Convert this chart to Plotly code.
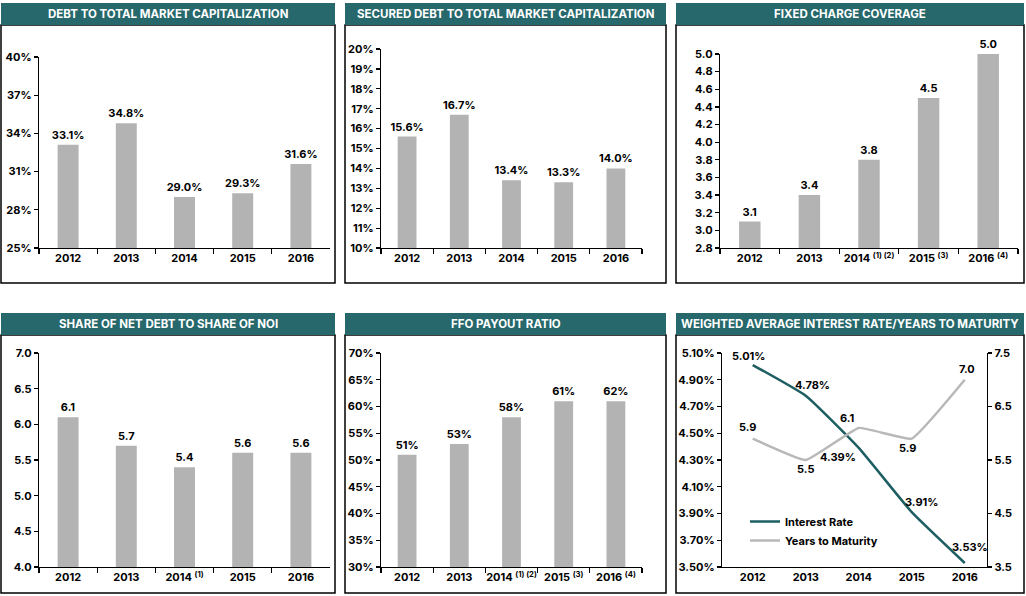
import plotly.graph_objects as go

# ---------------- data ----------------
years = ["2012", "2013", "2014", "2015", "2016"]
ticks_plain = ["2012", "2013", "2014", "2015", "2016"]
ticks_fc = ["2012", "2013", "2014 <sup>(1) (2)</sup>", "2015 <sup>(3)</sup>", "2016 <sup>(4)</sup>"]
ticks_noi = ["2012", "2013", "2014 <sup>(1)</sup>", "2015", "2016"]

debt_to_mcap = [33.1, 34.8, 29.0, 29.3, 31.6]
secured_debt_to_mcap = [15.6, 16.7, 13.4, 13.3, 14.0]
fixed_charge = [3.1, 3.4, 3.8, 4.5, 5.0]
net_debt_to_noi = [6.1, 5.7, 5.4, 5.6, 5.6]
ffo_payout = [51, 53, 58, 61, 61]
ffo_payout_labels = ["51%", "53%", "58%", "61%", "62%"]
interest_rate = [5.01, 4.78, 4.39, 3.91, 3.53]
years_to_maturity = [5.9, 5.5, 6.1, 5.9, 7.0]

titles = [
    "DEBT TO TOTAL MARKET CAPITALIZATION",
    "SECURED DEBT TO TOTAL MARKET CAPITALIZATION",
    "FIXED CHARGE COVERAGE",
    "SHARE OF NET DEBT TO SHARE OF NOI",
    "FFO PAYOUT RATIO",
    "WEIGHTED AVERAGE INTEREST RATE/YEARS TO MATURITY",
]

# label offsets (pixels) for the line chart value labels
rate_label_shift = [(-4, 9), (7, 11), (-21, -9), (10, 10), (5, 16)]
ytm_label_shift = [(-5, 12), (0, -9), (-12, 10), (-4, -9), (2, 11)]

# ---------------- styling ----------------
W, H = 1026, 596
TEAL = "#26686b"
LINE_TEAL = "#1d5e62"
BAR = "#b3b3b3"
FONT = "Inter"

def px(x):
    return x / W

def py(y):
    return 1 - y / H

def dom_x(a, b):
    return [px(a), px(b)]

def dom_y(top, bottom):
    return [py(bottom), py(top)]

fig = go.Figure()

bar_font = dict(family=FONT, size=11, color="black", weight="bold")

def add_bar(idx, values, texttemplate=None, text=None):
    xa = "x" if idx == 1 else f"x{idx}"
    ya = "y" if idx == 1 else f"y{idx}"
    kw = {}
    if text is not None:
        kw["text"] = text
    else:
        kw["texttemplate"] = texttemplate
    fig.add_trace(go.Bar(
        x=years, y=values, xaxis=xa, yaxis=ya,
        marker=dict(color=BAR, line=dict(width=0)),
        textposition="outside", textfont=bar_font, cliponaxis=False,
        constraintext="none", showlegend=False, hoverinfo="skip", **kw))

add_bar(1, debt_to_mcap, texttemplate="%{y:.1f}%")
add_bar(2, secured_debt_to_mcap, texttemplate="%{y:.1f}%")
add_bar(3, fixed_charge, texttemplate="%{y:.1f}")
add_bar(4, net_debt_to_noi, texttemplate="%{y:.1f}")
add_bar(5, ffo_payout, text=ffo_payout_labels)

fig.add_trace(go.Scatter(
    x=years, y=interest_rate, xaxis="x6", yaxis="y6", name="Interest Rate",
    mode="lines", line=dict(color=LINE_TEAL, width=2.5, shape="spline", smoothing=0.4),
    cliponaxis=False, hoverinfo="skip"))
fig.add_trace(go.Scatter(
    x=years, y=years_to_maturity, xaxis="x6", yaxis="y7", name="Years to Maturity",
    mode="lines", line=dict(color="#b8b8b8", width=2.5, shape="spline", smoothing=0.3),
    cliponaxis=False, hoverinfo="skip"))

tick_font = dict(family=FONT, size=11, color="black", weight="bold")

def xaxis(d, ticktext, anchor):
    return dict(domain=d, type="category", tickmode="array", tickvals=years, ticktext=ticktext,
                showline=True, linecolor="black", linewidth=1.2, ticks="outside",
                tickson="boundaries", ticklen=5, tickcolor="black", tickwidth=1.2,
                tickfont=tick_font, showgrid=False, zeroline=False, anchor=anchor,
                tickangle=0, automargin=False, fixedrange=True)

def yaxis(d, rng, dtick, anchor, fmt=None, suffix="", side="left"):
    a = dict(domain=d, range=rng, dtick=dtick, tick0=rng[0], showline=True, linecolor="black",
             linewidth=1.2, ticks="outside", ticklen=4, tickcolor="black", tickwidth=1.2,
             tickfont=tick_font, showgrid=False, zeroline=False, anchor=anchor,
             ticksuffix=suffix, side=side, automargin=False, fixedrange=True)
    if fmt:
        a["tickformat"] = fmt
    return a

layout = dict(
    width=W, height=H, margin=dict(l=0, r=0, t=0, b=0, autoexpand=False),
    paper_bgcolor="white", plot_bgcolor="white",
    font=dict(family=FONT, size=11, color="black"),
    bargap=0.64,
    xaxis=xaxis(dom_x(39, 330), ticks_plain, "y"),
    yaxis=yaxis(dom_y(57, 248), [25, 40], 3, "x", suffix="%"),
    xaxis2=xaxis(dom_x(381, 642), ticks_plain, "y2"),
    yaxis2=yaxis(dom_y(49, 248), [10, 20], 1, "x2", suffix="%"),
    xaxis3=xaxis(dom_x(720, 1018), ticks_fc, "y3"),
    yaxis3=yaxis(dom_y(54, 248), [2.8, 5.0], 0.2, "x3", fmt=".1f"),
    xaxis4=xaxis(dom_x(39, 330), ticks_noi, "y4"),
    yaxis4=yaxis(dom_y(353, 567), [4.0, 7.0], 0.5, "x4", fmt=".1f"),
    xaxis5=xaxis(dom_x(381, 642), ticks_fc, "y5"),
    yaxis5=yaxis(dom_y(353, 567), [30, 70], 5, "x5", suffix="%"),
    xaxis6=xaxis(dom_x(722, 987), ticks_plain, "y6"),
    yaxis6=yaxis(dom_y(353, 567), [3.5, 5.1], 0.2, "x6", fmt=".2f", suffix="%"),
    yaxis7=yaxis(dom_y(353, 567), [3.5, 7.5], 1, "x6", fmt=".1f", side="right"),
    legend=dict(x=px(745), y=py(507), xanchor="left", yanchor="top",
                bgcolor="rgba(0,0,0,0)", font=dict(family=FONT, size=11, color="black", weight="bold"),
                itemwidth=30, tracegroupgap=0),
    showlegend=True,
)
layout["yaxis7"]["overlaying"] = "y6"
layout["xaxis6"]["tickson"] = "labels"
layout["xaxis6"]["ticks"] = ""
layout["xaxis6"]["range"] = [-0.58, 4.42]

# panel frames and headers
panels_x = [(1, 335), (345, 666), (676, 1024)]
rows = [(3, 25, 283), (313, 335, 593)]
shapes = []
annotations = []
k = 0
for (htop, hbot, fbot) in rows:
    for (x0, x1) in panels_x:
        shapes.append(dict(type="rect", xref="paper", yref="paper", x0=px(x0), x1=px(x1),
                           y0=py(hbot), y1=py(fbot), line=dict(color="black", width=1.5),
                           fillcolor="rgba(0,0,0,0)", layer="below"))
        shapes.append(dict(type="rect", xref="paper", yref="paper", x0=px(x0), x1=px(x1),
                           y0=py(hbot), y1=py(htop), line=dict(width=0), fillcolor=TEAL))
        annotations.append(dict(xref="paper", yref="paper", x=px((x0 + x1) / 2), y=py((htop + hbot) / 2),
                                text=titles[k], showarrow=False, xanchor="center", yanchor="middle",
                                font=dict(family=FONT, size=11.5, color="white", weight="bold")))
        k += 1

# value labels for the line chart, anchored at the data points (category index on x)
for i, (v, (dx, dy)) in enumerate(zip(interest_rate, rate_label_shift)):
    annotations.append(dict(xref="x6", yref="y6", x=i, y=v, text=f"{v:.2f}%", showarrow=False,
                            xanchor="center", yanchor="middle", xshift=dx, yshift=dy, font=bar_font))
for i, (v, (dx, dy)) in enumerate(zip(years_to_maturity, ytm_label_shift)):
    annotations.append(dict(xref="x6", yref="y7", x=i, y=v, text=f"{v:.1f}", showarrow=False,
                            xanchor="center", yanchor="middle", xshift=dx, yshift=dy, font=bar_font))

layout["shapes"] = shapes
layout["annotations"] = annotations

fig.update_layout(**layout)
fig.write_html("out.html", config={"displayModeBar": False, "staticPlot": True},
               post_script="document.body.style.margin='0';")
